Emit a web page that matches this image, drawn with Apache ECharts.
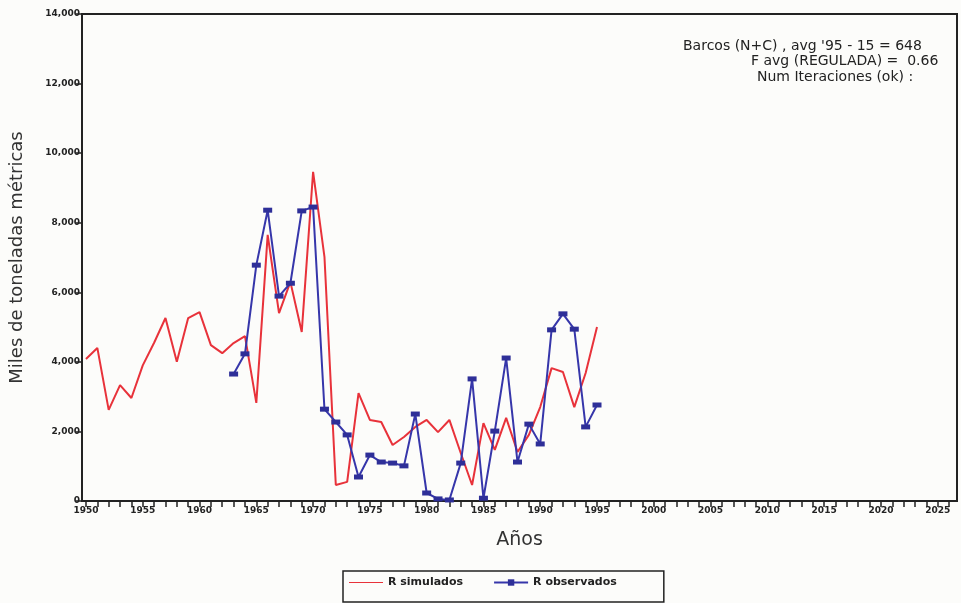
<!DOCTYPE html>
<html><head><meta charset="utf-8">
<script src="https://cdn.jsdelivr.net/npm/echarts@6/dist/echarts.min.js"></script>
<style>html,body{margin:0;padding:0;background:#fcfcfa}#c{width:961px;height:603px}</style>
</head><body><div id="c"></div>
<script>
const simYears = [1950,1951,1952,1953,1954,1955,1956,1957,1958,1959,1960,1961,1962,1963,1964,1965,1966,1967,1968,1969,1970,1971,1972,1973,1974,1975,1976,1977,1978,1979,1980,1981,1982,1983,1984,1985,1986,1987,1988,1989,1990,1991,1992,1993,1994,1995];
const simValues = [4080,4400,2620,3330,2960,3900,4550,5260,4000,5260,5430,4480,4250,4540,4740,2820,7650,5400,6300,4860,9460,7020,460,550,3100,2330,2270,1610,1840,2130,2330,1980,2330,1380,460,2240,1470,2390,1410,1900,2700,3820,3710,2700,3680,5000];
const obsYears = [1963,1964,1965,1966,1967,1968,1969,1970,1971,1972,1973,1974,1975,1976,1977,1978,1979,1980,1981,1982,1983,1984,1985,1986,1987,1988,1989,1990,1991,1992,1993,1994,1995];
const obsValues = [3650,4230,6780,8360,5890,6260,8340,8450,2640,2270,1900,690,1320,1120,1090,1010,2500,230,60,30,1090,3510,80,2010,4110,1120,2210,1640,4920,5380,4940,2130,2760];
const xLabelYears = [1950,1955,1960,1965,1970,1975,1980,1985,1990,1995,2000,2005,2010,2015,2020,2025];
const xTickYears = []; for (let y = 1950; y <= 2026; y++) xTickYears.push(y);
const annotLines = ["Barcos (N+C) , avg '95 - 15 = 648","F avg (REGULADA) =  0.66","Num Iteraciones (ok) :"];
const legendNames = ["R simulados","R observados"];

const chart = echarts.init(document.getElementById('c'), null, {renderer:'canvas'});
const fmt = v => v.toLocaleString('en-US');
chart.setOption({
  backgroundColor:'#fcfcfa',
  animation:false,
  grid:{left:82,top:14,right:4,bottom:102,show:true,borderColor:'#222',borderWidth:2,backgroundColor:'transparent'},
  xAxis:{type:'value',min:1949.65,max:2026.7,
    name:'Años',nameLocation:'middle',nameGap:30,
    nameTextStyle:{fontFamily:'DejaVu Sans',fontSize:19,color:'#333'},
    axisLine:{lineStyle:{color:'#222',width:2}},
    axisTick:{customValues:xTickYears,length:6,lineStyle:{color:'#222',width:1.5}},
    axisLabel:{customValues:xLabelYears,formatter:v=>String(v),fontFamily:'DejaVu Sans',fontWeight:'bold',fontSize:9,color:'#222',margin:5},
    splitLine:{show:false}},
  yAxis:{type:'value',min:0,max:14000,interval:2000,
    name:'Miles de toneladas métricas',nameLocation:'middle',nameRotate:90,nameGap:56,
    nameTextStyle:{fontFamily:'DejaVu Sans',fontSize:18,color:'#333'},
    axisLine:{show:true,lineStyle:{color:'#222',width:2}},
    axisTick:{show:true,length:6,lineStyle:{color:'#222',width:1.5}},
    axisLabel:{formatter:v=>fmt(v),fontFamily:'DejaVu Sans',fontWeight:'bold',fontSize:9,color:'#222',margin:2},
    splitLine:{show:false}},
  legend:{left:343,top:571,itemGap:30,itemWidth:34,itemHeight:8,
    borderColor:'#222',borderWidth:1.5,padding:[6,47,14,6],backgroundColor:'transparent',
    textStyle:{fontFamily:'DejaVu Sans',fontWeight:'bold',fontSize:11,color:'#222'},
    data:[{name:legendNames[0],icon:'path://M0,4L34,4L34,5L0,5Z'},{name:legendNames[1]}]},
  graphic:[
    {type:'text',left:683,top:39,style:{text:annotLines[0],font:'14px "DejaVu Sans"',fill:'#222'}},
    {type:'text',left:751,top:54,style:{text:annotLines[1],font:'14px "DejaVu Sans"',fill:'#222'}},
    {type:'text',left:757,top:70,style:{text:annotLines[2],font:'14px "DejaVu Sans"',fill:'#222'}}
  ],
  series:[
    {name:legendNames[0],type:'line',data:simYears.map((y,i)=>[y,simValues[i]]),
      showSymbol:false,symbol:'none',lineStyle:{color:'#e8323a',width:2},itemStyle:{color:'#e8323a'}},
    {name:legendNames[1],type:'line',data:obsYears.map((y,i)=>[y,obsValues[i]]),
      symbol:'rect',symbolSize:[9,5],lineStyle:{color:'#3636aa',width:2},itemStyle:{color:'#2e2f98'}}
  ]
});
</script></body></html>
